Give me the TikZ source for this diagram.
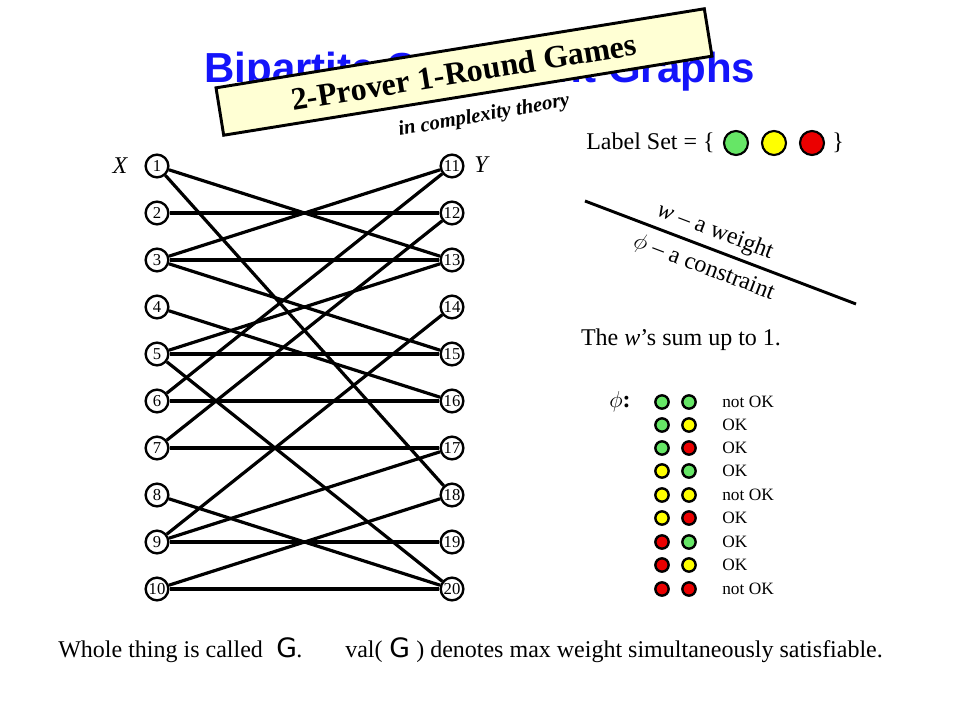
\documentclass[tikz,border=0pt]{standalone}
\usepackage{fontspec}
\setmainfont{Liberation Serif}
\newfontfamily\titlefont{Liberation Sans}
\newfontfamily\gfont{DejaVu Sans}
\usepackage{tikz}
\definecolor{titleblue}{RGB}{20,20,250}
\definecolor{notepaper}{RGB}{255,255,212}
\definecolor{lblgreen}{RGB}{102,230,102}
\definecolor{lblyellow}{RGB}{255,255,0}
\definecolor{lblred}{RGB}{235,0,0}
\tikzstyle{vtx} = [draw=black, line width=1.8pt, circle, fill=white, inner sep=0pt, minimum size=17pt, font=\fontsize{12.5}{12.5}\selectfont]
\tikzstyle{link} = [draw=black, line width=2.4pt]
\tikzstyle{bigdot} = [draw=black, line width=1.6pt, circle, inner sep=0pt, minimum size=18pt]
\tikzstyle{dot} = [draw=black, line width=1.8pt, circle, inner sep=0pt, minimum size=10pt]
\tikzstyle{okmark} = [anchor=west, inner sep=0pt, font=\fontsize{13}{13}\selectfont]
\tikzstyle{plain} = [inner sep=0pt, font=\fontsize{18}{18}\selectfont]

\begin{document}
\begin{tikzpicture}[x=0.75pt, y=-0.75pt]
  \fill[white] (0,0) rectangle (960,720);
  \useasboundingbox (0,0) rectangle (960,720);

  % title, half hidden by the banner
  \node[inner sep=0pt, anchor=base, text=titleblue, font={\titlefont\bfseries\fontsize{31.5}{32}\selectfont}] (title) at (480,83) {Bipartite Constraint Graphs};
  \node[draw=black, line width=2.2pt, fill=notepaper, rotate=9.2, minimum width=371pt, minimum height=36pt, inner sep=0pt, font=\bfseries\fontsize{24}{24}\selectfont] (banner) at (464,72) {2-Prover 1-Round Games};
  \node[inner sep=0pt, rotate=10, font=\bfseries\itshape\fontsize{15.5}{16}\selectfont] (subtitle) at (484,116) {in complexity theory};

  % left side X
  \node[vtx] (x1) at (157,166) {1};
  \node[vtx] (x2) at (157,213) {2};
  \node[vtx] (x3) at (157,260) {3};
  \node[vtx] (x4) at (157,307) {4};
  \node[vtx] (x5) at (157,354) {5};
  \node[vtx] (x6) at (157,401) {6};
  \node[vtx] (x7) at (157,448) {7};
  \node[vtx] (x8) at (157,495) {8};
  \node[vtx] (x9) at (157,542) {9};
  \node[vtx] (x10) at (157,589) {10};
  \node[plain, font=\fontsize{18}{18}\selectfont\itshape] (xlab) at (120,166) {X};

  % right side Y
  \node[vtx] (y11) at (452,166) {11};
  \node[vtx] (y12) at (452,213) {12};
  \node[vtx] (y13) at (452,260) {13};
  \node[vtx] (y14) at (452,307) {14};
  \node[vtx] (y15) at (452,354) {15};
  \node[vtx] (y16) at (452,401) {16};
  \node[vtx] (y17) at (452,448) {17};
  \node[vtx] (y18) at (452,495) {18};
  \node[vtx] (y19) at (452,542) {19};
  \node[vtx] (y20) at (452,589) {20};
  \node[plain, font=\fontsize{18}{18}\selectfont\itshape] (ylab) at (481,165) {Y};

  \draw[link] (x1) -- (y13);
  \draw[link] (x1) -- (y18);
  \draw[link] (x2) -- (y12);
  \draw[link] (x3) -- (y11);
  \draw[link] (x3) -- (y13);
  \draw[link] (x3) -- (y15);
  \draw[link] (x4) -- (y16);
  \draw[link] (x5) -- (y13);
  \draw[link] (x5) -- (y15);
  \draw[link] (x5) -- (y20);
  \draw[link] (x6) -- (y11);
  \draw[link] (x6) -- (y16);
  \draw[link] (x7) -- (y12);
  \draw[link] (x7) -- (y17);
  \draw[link] (x8) -- (y20);
  \draw[link] (x9) -- (y14);
  \draw[link] (x9) -- (y17);
  \draw[link] (x9) -- (y19);
  \draw[link] (x10) -- (y18);
  \draw[link] (x10) -- (y20);

  % label set
  \node[plain, anchor=west] (lblset) at (586,143) {Label Set = \{};
  \node[bigdot, fill=lblgreen] (lg) at (736,143) {};
  \node[bigdot, fill=lblyellow] (ly) at (774,143) {};
  \node[bigdot, fill=lblred] (lr) at (812,143) {};
  \node[plain] (rbrace) at (838,143) {\}};

  % edge legend
  \coordinate (sepL) at (585,201);
  \coordinate (sepR) at (856,304);
  \draw[line width=2.2pt] (sepL) -- (sepR);
  \node[plain, rotate=-20.8] (wnote) at (715,232) {\textit{w} -- a weight};
  \node[plain, rotate=-20.8] (phinote) at (704,268) {$\phi$ -- a constraint};
  \node[plain] (wsum) at (681,340) {The \textit{w}'s sum up to 1.};

  % the constraint table
  \node[plain] (phi) at (620,402) {$\phi$\textbf{:}};
  \node[dot, fill=lblgreen] (c1a) at (662,402) {};
  \node[dot, fill=lblgreen] (c1b) at (689,402) {};
  \node[okmark] (ok1) at (722,402) {not OK};
  \node[dot, fill=lblgreen] (c2a) at (662,425) {};
  \node[dot, fill=lblyellow] (c2b) at (689,425) {};
  \node[okmark] (ok2) at (722,425) {OK};
  \node[dot, fill=lblgreen] (c3a) at (662,448) {};
  \node[dot, fill=lblred] (c3b) at (689,448) {};
  \node[okmark] (ok3) at (722,448) {OK};
  \node[dot, fill=lblyellow] (c4a) at (662,471) {};
  \node[dot, fill=lblgreen] (c4b) at (689,471) {};
  \node[okmark] (ok4) at (722,471) {OK};
  \node[dot, fill=lblyellow] (c5a) at (662,495) {};
  \node[dot, fill=lblyellow] (c5b) at (689,495) {};
  \node[okmark] (ok5) at (722,495) {not OK};
  \node[dot, fill=lblyellow] (c6a) at (662,518) {};
  \node[dot, fill=lblred] (c6b) at (689,518) {};
  \node[okmark] (ok6) at (722,518) {OK};
  \node[dot, fill=lblred] (c7a) at (662,542) {};
  \node[dot, fill=lblgreen] (c7b) at (689,542) {};
  \node[okmark] (ok7) at (722,542) {OK};
  \node[dot, fill=lblred] (c8a) at (662,565) {};
  \node[dot, fill=lblyellow] (c8b) at (689,565) {};
  \node[okmark] (ok8) at (722,565) {OK};
  \node[dot, fill=lblred] (c9a) at (662,589) {};
  \node[dot, fill=lblred] (c9b) at (689,589) {};
  \node[okmark] (ok9) at (722,589) {not OK};

  % bottom line
  \node[plain, anchor=base west] (whole) at (58,657) {Whole thing is called};
  \node[inner sep=0pt, anchor=base west, font={\gfont\fontsize{20}{20}\selectfont}] (g1) at (276,657) {G};
  \node[plain, anchor=base west] (dot1) at (296,657) {.};
  \node[plain, anchor=base west] (val) at (345,657) {val(};
  \node[inner sep=0pt, anchor=base west, font={\gfont\fontsize{20}{20}\selectfont}] (g2) at (389,657) {G};
  \node[plain, anchor=base west] (denotes) at (416,657) {) denotes max weight simultaneously satisfiable.};
\end{tikzpicture}
\end{document}
